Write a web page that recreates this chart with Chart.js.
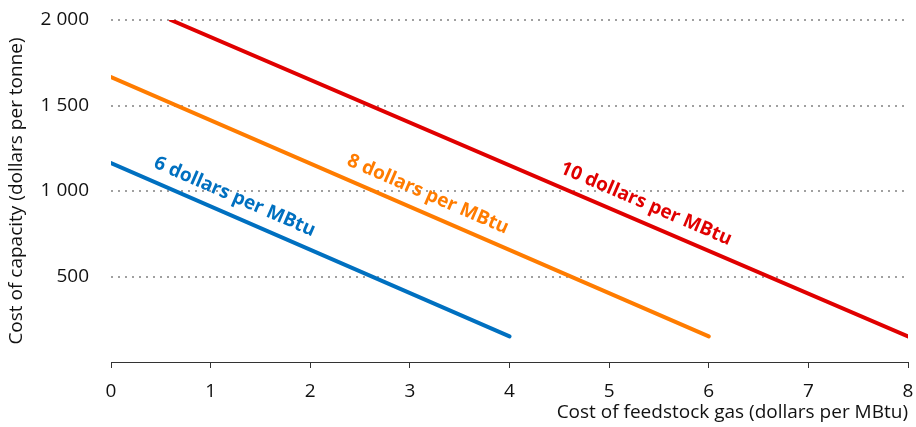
<!DOCTYPE html>
<html>
<head>
<meta charset="utf-8">
<script src="https://cdn.jsdelivr.net/npm/chart.js@4"></script>
<style>
    html, body { margin: 0; padding: 0; background: #fff; }
    #wrap { width: 916px; height: 427px; }
</style>
</head>
<body>
<div id="wrap"><canvas id="chart"></canvas></div>
<script>
// --- Data ---
const gasCost6 = [0, 4];
const capacity6 = [1163, 150];
const gasCost8 = [0, 6];
const capacity8 = [1666, 150];
const gasCost10 = [0.6, 8];
const capacity10 = [2000, 150];

const seriesLabels = ['6 dollars per MBtu', '8 dollars per MBtu', '10 dollars per MBtu'];
const seriesColors = ['#0070C0', '#FF7C00', '#E00000'];
// where along the x axis each line label sits
const labelAnchors = [1.24, 3.18, 5.37];

const yTicks = [0, 500, 1000, 1500, 2000];

const FONT = "'Open Sans', 'Liberation Sans', sans-serif";

function toPoints(xs, ys) {
    return xs.map((x, i) => ({ x: x, y: ys[i] }));
}

function fmt(v) {
    // thousands with a space, like "2 000"
    return String(v).replace(/\B(?=(\d{3})+(?!\d))/g, ' ');
}

// --- Line labels drawn along each line ---
const lineLabels = {
    id: 'lineLabels',
    afterDatasetsDraw(chart) {
        const ctx = chart.ctx;
        const xs = chart.scales.x;
        const ys = chart.scales.y;
        chart.data.datasets.forEach((ds, i) => {
            const p0 = ds.data[0];
            const p1 = ds.data[ds.data.length - 1];
            const x0 = xs.getPixelForValue(p0.x), y0 = ys.getPixelForValue(p0.y);
            const x1 = xs.getPixelForValue(p1.x), y1 = ys.getPixelForValue(p1.y);
            const ang = Math.atan2(y1 - y0, x1 - x0);
            const ax = xs.getPixelForValue(labelAnchors[i]);
            const ay = y0 + (ax - x0) * (y1 - y0) / (x1 - x0);
            ctx.save();
            ctx.translate(ax, ay - 20);
            ctx.rotate(ang);
            ctx.font = "bold 19px 'Open Sans', sans-serif";
            ctx.fillStyle = ds.borderColor;
            ctx.textAlign = 'center';
            ctx.textBaseline = 'middle';
            ctx.fillText(seriesLabels[i], 0, 0);
            ctx.restore();
        });
    }
};

const datasets = [
    toPoints(gasCost6, capacity6),
    toPoints(gasCost8, capacity8),
    toPoints(gasCost10, capacity10)
].map((pts, i) => ({
    label: seriesLabels[i],
    data: pts,
    borderColor: seriesColors[i],
    backgroundColor: seriesColors[i],
    borderWidth: 4,
    borderCapStyle: 'round',
    pointRadius: 0,
    fill: false
}));

new Chart(document.getElementById('chart'), {
    type: 'line',
    data: { datasets: datasets },
    plugins: [lineLabels],
    options: {
        responsive: true,
        maintainAspectRatio: false,
        animation: false,
        layout: { padding: { top: 20, right: 8, left: 0, bottom: 0 } },
        plugins: {
            legend: { display: false },
            tooltip: { enabled: false }
        },
        scales: {
            x: {
                type: 'linear',
                min: 0,
                max: 8,
                afterFit: (s) => {
                    s.height = 65;
                    s.paddingLeft = 0;
                    s.paddingRight = 0;
                },
                ticks: {
                    stepSize: 1,
                    color: '#111',
                    padding: 12,
                    font: { family: FONT, size: 19 }
                },
                grid: {
                    drawOnChartArea: false,
                    drawTicks: true,
                    tickLength: 6,
                    color: '#333'
                },
                border: { display: true, color: '#333', width: 1 },
                title: {
                    display: true,
                    text: 'Cost of feedstock gas (dollars per MBtu)',
                    align: 'end',
                    color: '#111',
                    padding: { top: 0, bottom: 3 },
                    font: { family: FONT, size: 19 }
                }
            },
            y: {
                min: 0,
                max: 2000,
                afterFit: (s) => {
                    s.width = 111;
                    s.paddingTop = 0;
                    s.paddingBottom = 0;
                },
                afterBuildTicks: (s) => { s.ticks = yTicks.map(v => ({ value: v })); },
                ticks: {
                    color: '#111',
                    padding: 22,
                    font: { family: FONT, size: 19 },
                    callback: (v) => v === 0 ? '' : fmt(v)
                },
                grid: {
                    drawTicks: false,
                    lineWidth: 2,
                    color: (c) => c.tick && c.tick.value === 0 ? 'rgba(0,0,0,0)' : '#A0A0A0'
                },
                border: { display: false, dash: [2, 5] },
                title: {
                    display: true,
                    text: 'Cost of capacity (dollars per tonne)',
                    color: '#111',
                    padding: { top: 5, bottom: 0 },
                    font: { family: FONT, size: 19 }
                }
            }
        }
    }
});
</script>
</body>
</html>
